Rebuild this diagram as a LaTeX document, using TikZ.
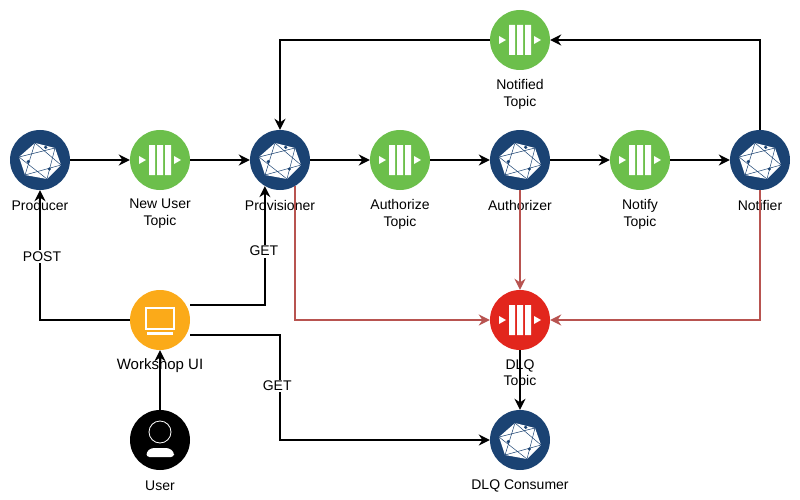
\documentclass[tikz,border=0pt]{standalone}
\usepackage{fontspec}
\setmainfont{Liberation Sans}
\usetikzlibrary{arrows.meta}
\definecolor{hexblue}{HTML}{1B4373}
\definecolor{topicgreen}{HTML}{6CBF4B}
\definecolor{dlqred}{HTML}{E2261D}
\definecolor{uiorange}{HTML}{FBAA19}
\definecolor{errline}{HTML}{B85450}
\tikzset{
	hexicon/.pic={
		\fill[white] (-5,-17) -- (15,-12) -- (21,5) -- (7,19) -- (-15,15) -- (-21,-3) -- cycle;
		\draw[hexblue, line width=0.5pt] (-5,-17) -- (21,5) -- (-15,15) -- cycle;
		\draw[hexblue, line width=0.5pt] (15,-12) -- (7,19) -- (-21,-3) -- cycle;
		\fill[hexblue] (5.7,-12.7) circle (1.8) (-11.7,1.7) circle (1.8) (9.3,9) circle (1.8);
	},
	queueicon/.pic={
		\fill[white] (-11,-15) rectangle (-5,15) (-3,-15) rectangle (3,15) (5,-15) rectangle (11,15);
		\fill[white] (-21,-4) -- (-14,0) -- (-21,4) -- cycle;
		\fill[white] (14,-4) -- (21,0) -- (14,4) -- cycle;
	}
}
\begin{document}
\begin{tikzpicture}[x=1pt, y=-1pt,
	every node/.style={font=\fontsize{14}{16.8}\selectfont, align=center, inner sep=0pt},
	service/.style={circle, minimum size=60pt, fill=hexblue},
	topic/.style={circle, minimum size=60pt, fill=topicgreen},
	flow/.style={line width=1.6pt, -{Stealth[length=11pt, width=11pt]}},
	errflow/.style={flow, errline},
	edgetext/.style={fill=white, inner sep=1.5pt}]
	\useasboundingbox (0,0) rectangle (800,500);
	\node[service] (producer) at (40,160) {};
	\node[topic] (newuser) at (160,160) {};
	\node[service] (provisioner) at (280,160) {};
	\node[topic] (authorize) at (400,160) {};
	\node[service] (authorizer) at (520,160) {};
	\node[topic] (notify) at (640,160) {};
	\node[service] (notifier) at (760,160) {};
	\node[topic] (notified) at (520,40) {};
	\node[topic, fill=dlqred] (dlq) at (520,320) {};
	\node[service] (consumer) at (520,440) {};
	\node[circle, minimum size=60pt, fill=uiorange] (ui) at (160,320) {};
	\node[circle, minimum size=60pt, fill=black] (user) at (160,440) {};
	% icons
	\foreach \n in {producer,provisioner,authorizer,notifier,consumer}
		\pic at (\n) {hexicon};
	\foreach \n in {newuser,authorize,notify,notified,dlq}
		\pic at (\n) {queueicon};
	\draw[white, line width=2pt] (146,308) rectangle (174,329);
	\fill[white] (147,332) rectangle (173,334.5);
	\draw[white, line width=0.8pt] (160,432) circle (11);
	\fill[white, rounded corners=3pt] (146.5,457) -- (146.5,452) -- (151,448) -- (169,448) -- (174,452) -- (174,457) -- cycle;
	% labels
	\node (producertext) at (40,205.5) {Producer};
	\node (newusertext) at (160,214) {New User\\Topic};
	\node (provisionertext) at (280,205.5) {Provisioner};
	\node (authorizetext) at (400,214) {Authorize\\Topic};
	\node (authorizertext) at (520,205.5) {Authorizer};
	\node (notifytext) at (640,214) {Notify\\Topic};
	\node (notifiertext) at (760,205.5) {Notifier};
	\node (notifiedtext) at (520,94) {Notified\\Topic};
	\node (dlqtext) at (520,374) {DLQ\\Topic};
	\node[font=\fontsize{15}{17}\selectfont] (uitext) at (160,365.5) {Workshop UI};
	\node (usertext) at (160,485.5) {User};
	\node (consumertext) at (520,485.5) {DLQ Consumer};
	% main flow
	\draw[flow] (producer) -- (newuser);
	\draw[flow] (newuser) -- (provisioner);
	\draw[flow] (provisioner) -- (authorize);
	\draw[flow] (authorize) -- (authorizer);
	\draw[flow] (authorizer) -- (notify);
	\draw[flow] (notify) -- (notifier);
	\draw[flow] (notifier.north) |- (notified.east);
	\draw[flow] (notified.west) -| (provisioner.north);
	\draw[flow] (user) -- (ui);
	\draw[flow] (dlq) -- (consumer);
	\draw[flow] (ui.west) -| node[edgetext, pos=0.745, xshift=2pt] {POST} (producer.south);
	\draw[flow] ([yshift=15pt]ui.east) -| node[edgetext, pos=0.727, xshift=-1pt] {GET} (provisioner.240);
	\draw[flow] ([yshift=-15pt]ui.east) -- ++(90,0) |- node[edgetext, pos=0.243, xshift=-3pt] {GET} (consumer.west);
	% errors
	\draw[errflow] (provisioner.300) |- (dlq.west);
	\draw[errflow] (authorizer) -- (dlq);
	\draw[errflow] (notifier.south) |- (dlq.east);
\end{tikzpicture}
\end{document}
